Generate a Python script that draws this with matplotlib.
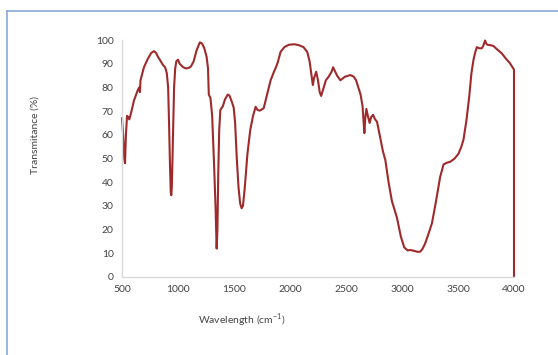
import matplotlib
matplotlib.use("Agg")
import matplotlib.pyplot as plt
from matplotlib.lines import Line2D

# FTIR spectrum: wavenumber (cm^-1) and transmittance (%)
wavenumber = [
    500, 510, 520, 527, 535, 545, 555, 565, 580, 607, 642, 655, 660, 665, 696,
    730, 760, 785, 805, 820, 840, 865, 885, 900, 912, 920, 928, 935, 940, 945,
    955, 965, 975, 985, 1000, 1015, 1043, 1070, 1095, 1115, 1140, 1165, 1195,
    1215, 1235, 1255, 1268, 1275, 1290, 1305, 1320, 1335, 1345, 1352, 1360,
    1368, 1378, 1400, 1420, 1445, 1460, 1480, 1497, 1510, 1525, 1540, 1555,
    1568, 1580, 1595, 1620, 1645, 1670, 1693, 1710, 1730, 1765, 1790, 1827,
    1860, 1875, 1890, 1916, 1950, 1990, 2040, 2080, 2120, 2154, 2175, 2190,
    2204, 2215, 2234, 2250, 2265, 2278, 2295, 2320, 2345, 2370, 2385, 2400,
    2420, 2450, 2490, 2539, 2570, 2590, 2610, 2630, 2648, 2664, 2672, 2682,
    2695, 2711, 2725, 2741, 2760, 2777, 2800, 2830, 2851, 2880, 2910, 2955,
    2990, 3020, 3050, 3074, 3110, 3140, 3163, 3185, 3207, 3235, 3267, 3300,
    3341, 3371, 3400, 3430, 3470, 3504, 3530, 3549, 3575, 3600, 3620, 3638,
    3655, 3668, 3690, 3712, 3725, 3742, 3752, 3762, 3790, 3816, 3850, 3890,
    3930, 3964, 3994, 4000, 4000,
]
transmittance = [
    67, 60, 50, 48, 60, 68, 67.5, 66.5, 69, 74.5, 79, 80, 78, 83, 88.5,
    92, 94.5, 95.3, 94.5, 93, 91.5, 89.5, 88.5, 86, 80, 65, 48, 36, 34.5, 38,
    60, 80, 88, 91, 91.7, 90, 88.6, 88, 88.2, 88.8, 91, 95.5, 99,
    98.5, 96.5, 93, 88, 77, 75.5, 68, 50, 30, 12, 20, 45,
    62, 70.5, 72, 75, 77, 76.5, 74, 71.5, 65, 50, 38, 31,
    29, 30, 37, 52, 62, 68, 71.8, 70.5, 70.2, 71.2, 76, 83,
    87, 88.5, 90.5, 95, 97, 98, 98.2, 97.8, 97, 95, 91, 86,
    81, 84, 86.6, 83, 78, 76.4, 79, 83, 84.5, 86.5, 88.5, 87,
    85, 83, 84.5, 85.2, 84.5, 83, 80, 77, 72, 60.7, 67, 70.9,
    68, 65, 67.5, 68.4, 66.5, 65.5, 60, 53, 49.4, 40, 32, 25,
    17, 12.5, 11.2, 11.4, 11, 10.6, 10.7, 12, 14.2, 18, 22.6, 31,
    42.3, 47.5, 48.2, 48.6, 50, 52, 55, 58, 66, 76, 86, 91.6,
    95, 97, 96.5, 96.5, 97.5, 99.8, 98.5, 98, 97.8, 97.5, 96, 94.4,
    92, 90.2, 88, 87.5, 0,
]

x_ticks = [500, 1000, 1500, 2000, 2500, 3000, 3500, 4000]
y_ticks = [0, 10, 20, 30, 40, 50, 60, 70, 80, 90, 100]

plt.rcParams["font.family"] = ["Lato", "DejaVu Sans"]

fig = plt.figure(figsize=(5.58, 3.55), dpi=100)
fig.patch.set_facecolor("white")
ax = fig.add_axes([122 / 558, 1 - 277 / 355, (514 - 122) / 558, (277 - 40) / 355])

ax.plot(wavenumber, transmittance, color="#9e2a2b", linewidth=1.5,
        solid_joinstyle="round", clip_on=False)

ax.set_xlim(500, 4000)
ax.set_ylim(0, 100)
ax.set_xticks(x_ticks)
ax.set_yticks(y_ticks)
ax.tick_params(length=0, labelsize=7.5, colors="#444444", pad=6)

for side in ("top", "right"):
    ax.spines[side].set_visible(False)
for side in ("left", "bottom"):
    ax.spines[side].set_color("#d9d9d9")
    ax.spines[side].set_linewidth(1.0)

fig.text(35 / 558, 1 - 135 / 355, "Transmitance (%)", rotation=90,
         ha="center", va="center", fontsize=7.5, color="#444444")
fig.text(242 / 558, 1 - 320 / 355, "Wavelength (cm$^{\\mathregular{-1}}$)",
         ha="center", va="center", fontsize=7.5, color="#444444")

# outer frame (top and left edges)
fig.add_artist(Line2D([6.5 / 558, 1.0], [1 - 10.5 / 355, 1 - 10.5 / 355],
                      transform=fig.transFigure, color="#8aa9d6", linewidth=1.2))
fig.add_artist(Line2D([6.5 / 558, 6.5 / 558], [0.0, 1 - 10.5 / 355],
                      transform=fig.transFigure, color="#8aa9d6", linewidth=1.2))

fig.savefig("out.png", dpi=100)
